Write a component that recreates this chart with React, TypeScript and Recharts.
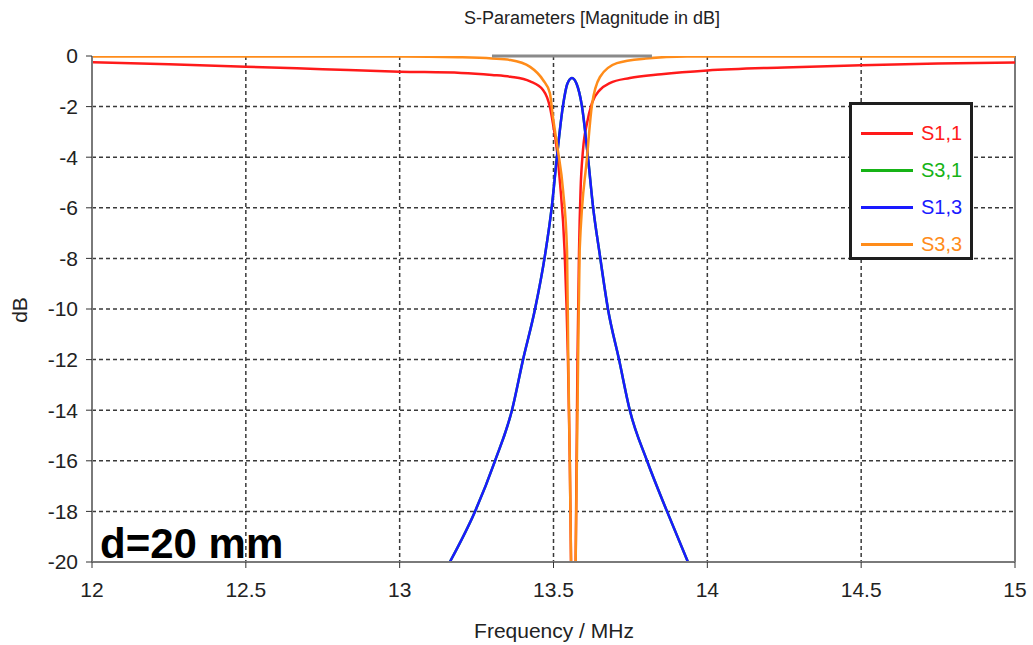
import React from 'react'
import { LineChart, Line, XAxis, YAxis, CartesianGrid, ReferenceLine, Legend } from 'recharts'

// S1,1 (red)
const s11Freq = [12, 12.25, 12.5, 12.75, 13.0, 13.2, 13.3, 13.36, 13.424, 13.466, 13.488, 13.498, 13.511, 13.521, 13.536, 13.547, 13.553, 13.557, 13.564, 13.572, 13.575, 13.578, 13.583, 13.588, 13.596, 13.609, 13.625, 13.651, 13.683, 13.748, 13.85, 14.0, 14.25, 14.5, 14.75, 15]
const s11Db = [-0.25, -0.33, -0.42, -0.52, -0.62, -0.67, -0.75, -0.82, -1.0, -1.34, -2.0, -2.65, -3.7, -5.0, -7.7, -12, -16, -20, -30, -20, -16, -12, -7.7, -5.3, -3.7, -2.65, -1.86, -1.34, -1.07, -0.87, -0.72, -0.57, -0.45, -0.37, -0.3, -0.26]

// S3,1 (green) and S1,3 (blue) lie on top of each other
const s31Freq = [13.163, 13.245, 13.31, 13.365, 13.401, 13.44, 13.472, 13.495, 13.511, 13.531, 13.545, 13.56, 13.575, 13.592, 13.612, 13.628, 13.651, 13.677, 13.713, 13.748, 13.804, 13.869, 13.937]
const s31Db = [-20, -18, -16, -14, -12, -10, -7.9, -5.9, -4, -1.95, -1.1, -0.87, -1.1, -1.95, -4, -5.9, -7.9, -10, -12, -14, -16, -18, -20]
const s13Freq = [13.163, 13.245, 13.31, 13.365, 13.401, 13.44, 13.472, 13.495, 13.511, 13.531, 13.545, 13.56, 13.575, 13.592, 13.612, 13.628, 13.651, 13.677, 13.713, 13.748, 13.804, 13.869, 13.937]
const s13Db = [-20, -18, -16, -14, -12, -10, -7.9, -5.9, -4, -1.95, -1.1, -0.87, -1.1, -1.95, -4, -5.9, -7.9, -10, -12, -14, -16, -18, -20]

// S3,3 (orange)
const s33Freq = [12, 13.0, 13.19, 13.3, 13.36, 13.424, 13.466, 13.488, 13.498, 13.514, 13.531, 13.544, 13.548, 13.553, 13.557, 13.564, 13.572, 13.576, 13.58, 13.585, 13.609, 13.625, 13.651, 13.706, 13.8, 13.934, 15]
const s33Db = [-0.02, -0.02, -0.05, -0.1, -0.16, -0.43, -0.95, -1.46, -2.4, -3.7, -5.3, -7.7, -12, -16, -20, -28, -20, -16, -12, -7.7, -4, -1.94, -0.83, -0.28, -0.1, -0.02, -0.02]

const xTicks = [12, 12.5, 13, 13.5, 14, 14.5, 15]
const yTicks = [0, -2, -4, -6, -8, -10, -12, -14, -16, -18, -20]
const topSegment = [13.3, 13.82]
const legendOrder = ['S1,1', 'S3,1', 'S1,3', 'S3,3']

const zip = (f: number[], v: number[]) => f.map((x, i) => ({ f: x, db: v[i] }))

const series = [
  { name: 'S1,1', color: '#ff1a1a', data: zip(s11Freq, s11Db) },
  { name: 'S3,1', color: '#16b316', data: zip(s31Freq, s31Db) },
  { name: 'S1,3', color: '#1a1aff', data: zip(s13Freq, s13Db) },
  { name: 'S3,3', color: '#ff8c1a', data: zip(s33Freq, s33Db) },
]

const font = '"Liberation Sans", Arial, sans-serif'

const renderLegend = (props: any) => {
  const items = [...(props.payload || [])].sort(
    (a: any, b: any) => legendOrder.indexOf(a.value) - legendOrder.indexOf(b.value),
  )
  return (
    <div
      style={{
        width: 124,
        height: 158,
        boxSizing: 'border-box',
        border: '3px solid #1e1e1e',
        background: '#fff',
        paddingTop: 10,
        fontFamily: font,
      }}
    >
      {items.map((p: any) => (
        <div key={p.value} style={{ display: 'flex', alignItems: 'center', height: 37 }}>
          <div style={{ width: 52, height: 3, background: p.color, marginLeft: 9, marginRight: 8 }} />
          <span style={{ color: p.color, fontSize: 20 }}>{p.value}</span>
        </div>
      ))}
    </div>
  )
}

export default function App() {
  return (
    <div style={{ position: 'absolute', left: 0, top: 0, width: 1033, height: 645, background: '#fff', fontFamily: font }}>
      <LineChart width={1033} height={645} margin={{ top: 56, right: 18, bottom: 33, left: 0 }}>
        <CartesianGrid
          stroke="#3a3a3a"
          strokeDasharray="4 3"
          strokeWidth={1.5}
          horizontalValues={yTicks.slice(1, -1)}
          verticalValues={xTicks.slice(1, -1)}
        />
        <XAxis
          type="number"
          dataKey="f"
          domain={[12, 15]}
          ticks={xTicks}
          tickFormatter={(v) => String(v)}
          allowDuplicatedCategory={false}
          height={50}
          axisLine={{ stroke: '#7a7a7a', strokeWidth: 2 }}
          tickLine={{ stroke: '#333' }}
          tickSize={6}
          tickMargin={14}
          tick={{ fontSize: 21, fill: '#222', fontFamily: font }}
        />
        <YAxis
          type="number"
          domain={[-20, 0]}
          allowDataOverflow
          ticks={yTicks}
          width={92}
          axisLine={{ stroke: '#7a7a7a', strokeWidth: 2 }}
          tickLine={{ stroke: '#333' }}
          tickSize={6}
          tickMargin={8}
          tick={{ fontSize: 21, fill: '#222', fontFamily: font }}
        />
        <ReferenceLine x={15} stroke="#7a7a7a" strokeWidth={2} />
        {series.map((s) => (
          <Line
            key={s.name}
            data={s.data}
            dataKey="db"
            name={s.name}
            type="monotone"
            stroke={s.color}
            strokeWidth={2.5}
            dot={false}
            isAnimationActive={false}
          />
        ))}
        <ReferenceLine
          segment={[{ x: topSegment[0], y: 0 }, { x: topSegment[1], y: 0 }]}
          stroke="#8a8a8a"
          strokeWidth={3}
        />
        <Legend
          layout="vertical"
          align="center"
          verticalAlign="middle"
          content={renderLegend}
          wrapperStyle={{ left: 849, top: 102, width: 124, height: 158 }}
        />
      </LineChart>
      <div style={{ position: 'absolute', left: 592, top: 8, transform: 'translateX(-50%)', fontSize: 18, color: '#222', whiteSpace: 'nowrap' }}>
        S-Parameters [Magnitude in dB]
      </div>
      <div style={{ position: 'absolute', left: 554, top: 619, transform: 'translateX(-50%)', fontSize: 21, color: '#222', whiteSpace: 'nowrap' }}>
        Frequency / MHz
      </div>
      <div style={{ position: 'absolute', left: 20, top: 310, transform: 'translate(-50%, -50%) rotate(-90deg)', fontSize: 21, color: '#222' }}>
        dB
      </div>
      <div style={{ position: 'absolute', left: 100, top: 520, fontSize: 42, fontWeight: 'bold', color: '#000', whiteSpace: 'nowrap', lineHeight: '48px' }}>
        d=20 mm
      </div>
    </div>
  )
}
